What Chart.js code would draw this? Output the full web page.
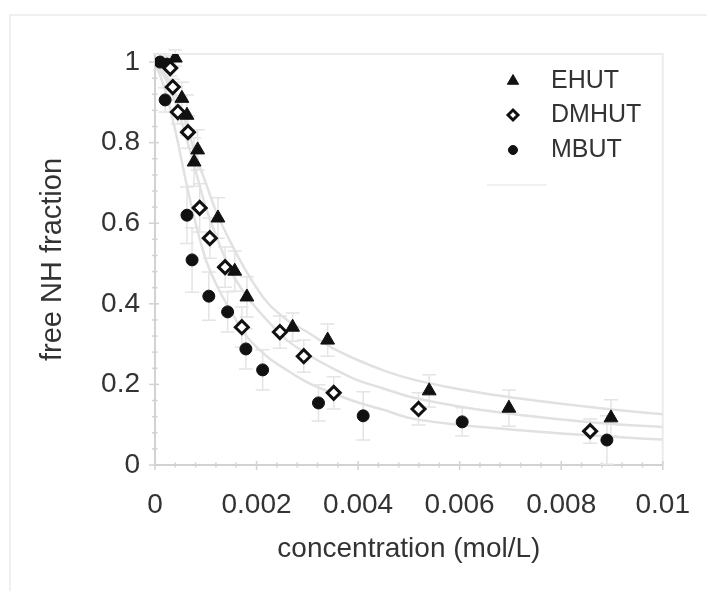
<!DOCTYPE html>
<html>
<head>
<meta charset="utf-8">
<script src="https://cdn.jsdelivr.net/npm/chart.js@4.4.1/dist/chart.umd.min.js"></script>
<style>
  html, body { margin: 0; padding: 0; background: #fff; }
  #wrap { width: 707px; height: 591px; position: relative; }
</style>
</head>
<body>
<div id="wrap"><canvas id="c" width="707" height="591"></canvas></div>
<script>
// Axis ticks
const xTickValues = [0, 0.002, 0.004, 0.006, 0.008, 0.01];
const yTickValues = [0, 0.2, 0.4, 0.6, 0.8, 1];

// Series names
const seriesNames = ['EHUT', 'DMHUT', 'MBUT'];

// EHUT measurements (concentration mol/L, free NH fraction, error)
const ehutX   = [0.0004, 0.00053, 0.00063, 0.00084, 0.00077, 0.00124, 0.00157, 0.00181, 0.00271, 0.0034, 0.0054, 0.00697, 0.00898];
const ehutY   = [1.01, 0.91, 0.868, 0.782, 0.752, 0.613, 0.481, 0.417, 0.342, 0.31, 0.184, 0.141, 0.117];
const ehutErr = [0.02, 0.04, 0.05, 0.05, 0.06, 0.05, 0.05, 0.05, 0.035, 0.04, 0.04, 0.045, 0.045];

// DMHUT measurements
const dmhutX   = [0.0003, 0.00035, 0.00045, 0.00065, 0.00088, 0.00108, 0.00138, 0.00171, 0.00246, 0.00293, 0.00352, 0.00519, 0.00857];
const dmhutY   = [0.985, 0.938, 0.876, 0.826, 0.638, 0.563, 0.491, 0.342, 0.33, 0.27, 0.179, 0.139, 0.084];
const dmhutErr = [0.02, 0.02, 0.03, 0.04, 0.06, 0.05, 0.05, 0.05, 0.04, 0.04, 0.04, 0.04, 0.03];

// MBUT measurements
const mbutX   = [0.0001, 0.00024, 0.0002, 0.00063, 0.00073, 0.00106, 0.00143, 0.00179, 0.00212, 0.00322, 0.0041, 0.00605, 0.0089];
const mbutY   = [1.0, 0.995, 0.906, 0.62, 0.509, 0.419, 0.38, 0.288, 0.236, 0.154, 0.122, 0.107, 0.062];
const mbutErr = [0.02, 0.02, 0.03, 0.07, 0.08, 0.06, 0.05, 0.05, 0.05, 0.045, 0.06, 0.035, 0.06];

// Fitted binding curves
const curveX     = [0, 0.0002, 0.0004, 0.0006, 0.0008, 0.001, 0.0012, 0.0015, 0.0018, 0.0022, 0.0026, 0.003, 0.0035, 0.004, 0.0045, 0.005, 0.006, 0.007, 0.008, 0.009, 0.01];
const ehutFitY   = [1, 0.97, 0.92, 0.85, 0.77, 0.7, 0.63, 0.55, 0.48, 0.405, 0.36, 0.33, 0.29, 0.26, 0.235, 0.215, 0.188, 0.168, 0.152, 0.138, 0.126];
const dmhutFitY  = [1, 0.96, 0.9, 0.82, 0.73, 0.64, 0.57, 0.48, 0.42, 0.36, 0.31, 0.275, 0.24, 0.21, 0.19, 0.17, 0.145, 0.127, 0.113, 0.102, 0.094];
const mbutFitY   = [1, 0.93, 0.83, 0.71, 0.6, 0.51, 0.45, 0.38, 0.32, 0.27, 0.235, 0.205, 0.178, 0.155, 0.137, 0.117, 0.1, 0.088, 0.078, 0.07, 0.063];

const FONT = "'Liberation Sans', Arial, Helvetica, sans-serif";
const TEXT = '#333333';
const AXIS = '#d2d2d2';
const INK = '#111111';

const pts = (xs, ys) => xs.map((x, i) => ({ x: x, y: ys[i] }));

const markerStyles = [
  { pointStyle: 'triangle', radius: 8, fill: INK, stroke: INK, borderWidth: 1 },
  { pointStyle: 'rectRot', radius: 6.5, fill: '#ffffff', stroke: INK, borderWidth: 3 },
  { pointStyle: 'circle', radius: 6, fill: INK, stroke: INK, borderWidth: 1 }
];

function seriesDataset(i, xs, ys, errs) {
  const m = markerStyles[i];
  return {
    type: 'scatter',
    label: seriesNames[i],
    data: pts(xs, ys),
    errors: errs,
    showLine: false,
    pointStyle: m.pointStyle,
    pointRadius: m.radius,
    pointHoverRadius: m.radius,
    pointBackgroundColor: m.fill,
    pointBorderColor: m.stroke,
    pointBorderWidth: m.borderWidth,
    order: 1
  };
}

function fitDataset(ys) {
  return {
    type: 'line',
    label: '',
    data: pts(curveX, ys),
    borderColor: '#e1e1e1',
    borderWidth: 2.5,
    pointRadius: 0,
    cubicInterpolationMode: 'monotone',
    fill: false,
    order: 3
  };
}

// Light outer frame, plot frame (top/right), tick marks and error bars
const framePlugin = {
  id: 'frame',
  beforeDraw(chart) {
    const ctx = chart.ctx;
    ctx.save();
    ctx.strokeStyle = '#ececec';
    ctx.lineWidth = 1.5;
    ctx.beginPath();
    ctx.moveTo(10, 591);
    ctx.lineTo(10, 15);
    ctx.lineTo(707, 15);
    ctx.stroke();
    ctx.restore();
  },
  beforeDatasetsDraw(chart) {
    const { ctx, chartArea: a, scales } = chart;
    const xs = scales.x, ys = scales.y;
    ctx.save();
    ctx.strokeStyle = '#ececec';
    ctx.lineWidth = 2;
    ctx.beginPath();
    ctx.moveTo(a.left, a.top);
    ctx.lineTo(a.right, a.top);
    ctx.lineTo(a.right, a.bottom);
    ctx.stroke();

    ctx.strokeStyle = AXIS;
    ctx.lineWidth = 1.5;
    const xAxisY = ys.getPixelForValue(0);
    const yAxisX = xs.getPixelForValue(0);
    for (let k = 0; k <= 25; k++) {
      const px = xs.getPixelForValue(k * 0.0004);
      const major = k % 5 === 0;
      ctx.beginPath();
      ctx.moveTo(px, xAxisY - (major ? 4 : 2.5));
      ctx.lineTo(px, xAxisY + (major ? 5 : 2.5));
      ctx.stroke();
    }
    for (let k = 0; k <= 25; k++) {
      const py = ys.getPixelForValue(k * 0.04);
      const major = k % 5 === 0;
      ctx.beginPath();
      ctx.moveTo(yAxisX - (major ? 6 : 3), py);
      ctx.lineTo(yAxisX + (major ? 4 : 2.5), py);
      ctx.stroke();
    }

    ctx.strokeStyle = '#e4e4e4';
    ctx.lineWidth = 1.5;
    chart.data.datasets.forEach((ds) => {
      if (!ds.errors) return;
      ds.data.forEach((p, i) => {
        const e = ds.errors[i];
        const px = xs.getPixelForValue(p.x);
        const y1 = ys.getPixelForValue(Math.max(0, p.y - e));
        const y2 = ys.getPixelForValue(p.y + e);
        ctx.beginPath();
        ctx.moveTo(px, y1); ctx.lineTo(px, y2);
        ctx.moveTo(px - 7, y1); ctx.lineTo(px + 7, y1);
        ctx.moveTo(px - 7, y2); ctx.lineTo(px + 7, y2);
        ctx.stroke();
      });
    });
    ctx.restore();
  }
};

// Legend with the same point shapes as the series
const legendPlugin = {
  id: 'seriesLegend',
  afterDraw(chart) {
    const ctx = chart.ctx;
    const rows = [81, 115, 150];
    ctx.save();
    seriesNames.forEach((name, i) => {
      const m = markerStyles[i];
      ctx.fillStyle = m.fill;
      ctx.strokeStyle = m.stroke;
      ctx.lineWidth = m.borderWidth;
      Chart.helpers.drawPoint(ctx, {
        pointStyle: m.pointStyle,
        radius: i === 0 ? 6.5 : (i === 1 ? 5 : 4.5),
        rotation: 0,
        borderWidth: i === 1 ? 2.5 : m.borderWidth
      }, 513, rows[i]);
      ctx.fillStyle = TEXT;
      ctx.font = '25px ' + FONT;
      ctx.textBaseline = 'middle';
      ctx.textAlign = 'left';
      ctx.fillText(name, 551, rows[i]);
    });
    ctx.strokeStyle = '#ececec';
    ctx.lineWidth = 1.5;
    ctx.beginPath();
    ctx.moveTo(487, 185);
    ctx.lineTo(547, 185);
    ctx.stroke();
    ctx.restore();
  }
};

const fmt = (v) => String(Number(Number(v).toFixed(4)));

new Chart(document.getElementById('c'), {
  data: {
    datasets: [
      seriesDataset(0, ehutX, ehutY, ehutErr),
      seriesDataset(1, dmhutX, dmhutY, dmhutErr),
      seriesDataset(2, mbutX, mbutY, mbutErr),
      fitDataset(ehutFitY),
      fitDataset(dmhutFitY),
      fitDataset(mbutFitY)
    ]
  },
  options: {
    responsive: false,
    animation: false,
    devicePixelRatio: 1,
    layout: { padding: { left: 0, right: 43, top: 54, bottom: 0 } },
    plugins: {
      legend: { display: false },
      tooltip: { enabled: false }
    },
    scales: {
      x: {
        type: 'linear',
        min: 0,
        max: 0.01,
        afterBuildTicks(s) { s.ticks = xTickValues.map(v => ({ value: v })); },
        afterFit(s) { s.height = 126; },
        ticks: {
          callback: fmt,
          font: { family: FONT, size: 28 },
          color: TEXT,
          padding: 17,
          maxRotation: 0,
          autoSkip: false
        },
        grid: { drawOnChartArea: false, drawTicks: true, tickLength: 6, color: 'rgba(0,0,0,0)' },
        border: { display: true, color: AXIS, width: 2 },
        title: {
          display: true,
          text: 'concentration (mol/L)',
          font: { family: FONT, size: 28 },
          color: TEXT,
          padding: { top: 0, bottom: 25 }
        }
      },
      y: {
        type: 'linear',
        min: 0,
        max: 1.02,
        afterBuildTicks(s) { s.ticks = yTickValues.map(v => ({ value: v })); },
        afterFit(s) { s.width = 155; },
        ticks: {
          callback: fmt,
          font: { family: FONT, size: 28 },
          color: TEXT,
          padding: 9,
          autoSkip: false
        },
        grid: { drawOnChartArea: false, drawTicks: true, tickLength: 6, color: 'rgba(0,0,0,0)' },
        border: { display: true, color: AXIS, width: 2 },
        title: {
          display: true,
          text: 'free NH fraction',
          font: { family: FONT, size: 29 },
          color: TEXT,
          padding: { top: 36, bottom: 0 }
        }
      }
    }
  },
  plugins: [framePlugin, legendPlugin]
});
</script>
</body>
</html>
